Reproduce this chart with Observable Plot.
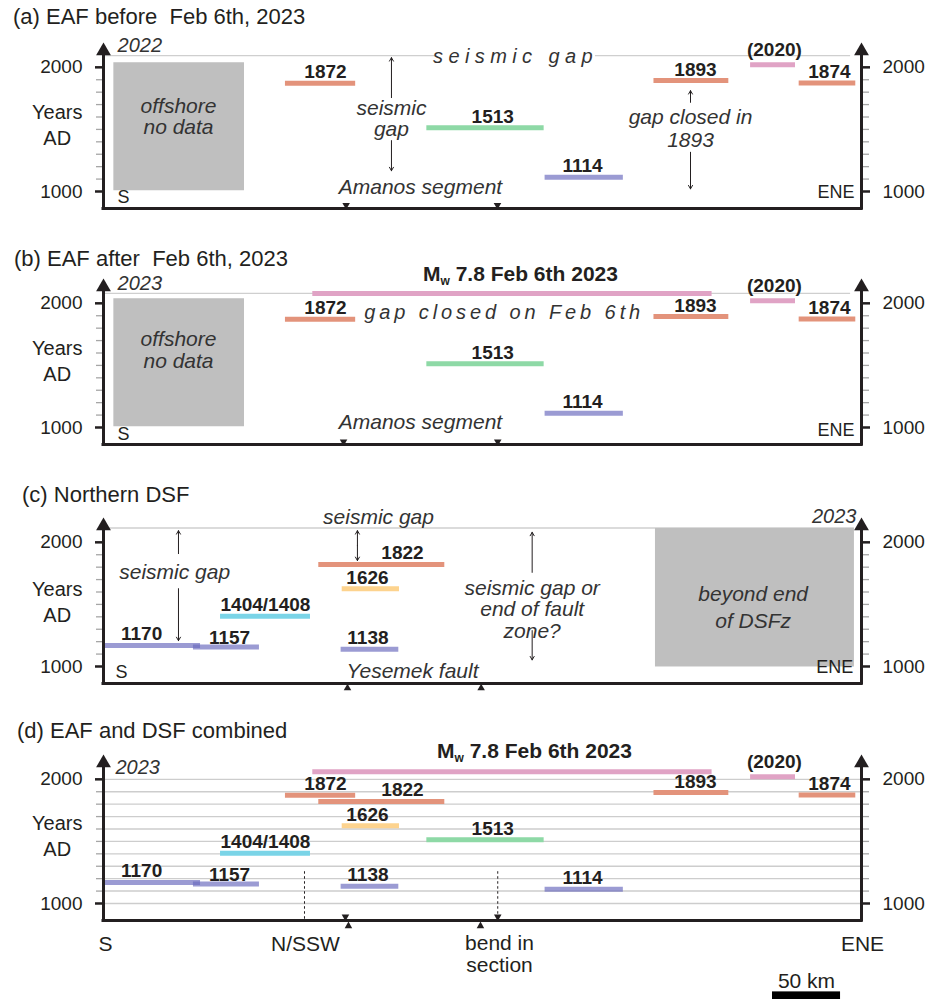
<!DOCTYPE html>
<html><head><meta charset="utf-8">
<script src="https://cdn.jsdelivr.net/npm/d3@7"></script>
<script src="https://cdn.jsdelivr.net/npm/@observablehq/plot@0.6"></script>
<style>
body{margin:0;background:#fff;}
#root{position:relative;width:937px;height:999px;overflow:hidden;background:#fff;font-family:'Liberation Sans',Arial,Helvetica,sans-serif;color:#231f20;}
.ttl{position:absolute;font-size:22px;line-height:22px;white-space:pre;z-index:2;}
</style></head><body><div id="root"></div>
<script>
const FONT = "'Liberation Sans', Arial, Helvetica, sans-serif";
const INK = "#231f20";
const NOTE = "#333333";

// ---------------- data ----------------
const panelTitles = ["(a) EAF before  Feb 6th, 2023", "(b) EAF after  Feb 6th, 2023", "(c) Northern DSF", "(d) EAF and DSF combined"];

const quakeLabels = ["1872", "1513", "1114", "1893", "(2020)", "1874", "2023", "1822", "1626", "1404/1408", "1170", "1157", "1138"];
const quakeYears  = [1872, 1513, 1114, 1893, 2020, 1874, 2023, 1822, 1626, 1404, 1170, 1157, 1138];
const quakeFault  = ["EAF", "EAF", "EAF", "EAF", "EAF", "EAF", "EAF", "DSF", "DSF", "DSF", "DSF", "DSF", "DSF"];
const quakeFromKm = [133.7, 237.6, 324.5, 404.5, 475.5, 511.2, 153.8, 158.2, 175.4, 86.0, 0.0, 66.1, 174.6];
const quakeToKm   = [185.3, 323.8, 382.0, 459.5, 508.5, 552.8, 447.2, 250.8, 217.5, 152.1, 71.3, 114.6, 217.0];
const labelKm     = [163.1, 286.0, 352.0, 435.0, 493.0, 533.4, null, 219.7, 194.0, 119.0, 28.0, 92.6, 194.3];
const MW_TEXT = "Mw 7.8 Feb 6th 2023";

const yTicksMajor = [1000, 2000];
const yTicksMinor = [1100, 1200, 1300, 1400, 1500, 1600, 1700, 1800, 1900];
const gridYears   = [1000, 1100, 1200, 1300, 1400, 1500, 1600, 1700, 1800, 1900, 2000];
const xDomainKm = [0, 557];
const yDomainYears = [863, 2200];
const scaleBarKm = 50;

const events = quakeLabels.map((label, i) => ({
  label, year: quakeYears[i], fault: quakeFault[i], from: quakeFromKm[i], to: quakeToKm[i], lx: labelKm[i]
}));

// ---------------- styles ----------------
const colorOf = {
  "1872": "#e3937b", "1893": "#e3937b", "1874": "#e3937b", "1822": "#e3937b",
  "1513": "#8ed9a6",
  "1114": "rgba(108,108,190,0.68)", "1170": "rgba(108,108,190,0.68)", "1157": "rgba(108,108,190,0.68)", "1138": "rgba(108,108,190,0.68)",
  "(2020)": "#e0a3c5", "2023": "#e0a3c5",
  "1626": "#fdd38e",
  "1404/1408": "#7ad4e7"
};
const labelDy = {"(2020)": -9, "1157": -3};

// ---------------- layout of panels ----------------
const panels = [
  { top: 11.9, titleTop: 6.4, titleLeft: 13, marginBottom: 25,
    filter: e => e.fault === "EAF" && e.label !== "2023",
    presentLine: [{x1: 0, x2: 244.3, y: 2094}, {x1: 361.5, x2: 549, y: 2094}],
    rects: [{x1: 7.6, x2: 103.6, y1: 1006, y2: 2037}],
    notes: [
      {text: "Years\nAD", x: -34.0, y: 1544, size: 20, lh: 1.28},
      {text: "2022", x: 10.3, y: 2175, size: 20, italic: true, anchor: "start"},
      {text: "S", x: 10.3, y: 955, size: 18, anchor: "start"},
      {text: "ENE", x: 551.9, y: 994, size: 18, anchor: "end"},
      {text: "offshore\nno data", x: 55.1, y: 1603, size: 21, italic: true, lh: 1.03},
      {text: "seismic gap", x: 302.75, y: 2086, size: 20, italic: true, spacing: 5.4},
      {text: "seismic\ngap", x: 211.6, y: 1584, size: 21, italic: true, lh: 1.0},
      {text: "Amanos segment", x: 232.9, y: 1034, size: 21, italic: true},
      {text: "gap closed in\n1893", x: 431.35, y: 1510, size: 21, italic: true, lh: 1.07}
    ],
    arrows: [{x: 211.6, from: 1756, to: 2078}, {x: 211.6, from: 1410, to: 1167},
             {x: 431.35, from: 1718, to: 1812}, {x: 431.35, from: 1316, to: 1021}],
    down: [{x: 178.3, y: 890}, {x: 289.5, y: 890}]
  },
  { top: 247.5, titleTop: 248.4, titleLeft: 14, marginBottom: 25, ruptureLevel: 2080,
    filter: e => e.fault === "EAF",
    presentLine: [{x1: 0, x2: 549, y: 2080}],
    rects: [{x1: 7.6, x2: 103.6, y1: 1006, y2: 2037}],
    notes: [
      {text: "Years\nAD", x: -34.0, y: 1545, size: 20, lh: 1.28},
      {text: "2023", x: 10.3, y: 2161, size: 20, italic: true, anchor: "start"},
      {text: "S", x: 10.3, y: 948, size: 18, anchor: "start"},
      {text: "ENE", x: 551.9, y: 980, size: 18, anchor: "end"},
      {text: "offshore\nno data", x: 55.1, y: 1624, size: 21, italic: true, lh: 1.03},
      {text: "gap closed on Feb 6th", x: 294.44, y: 1926, size: 20, italic: true, spacing: 3.9},
      {text: "Amanos segment", x: 232.9, y: 1042, size: 21, italic: true},
      {text: MW_TEXT, x: 306.4, y: 2180, size: 21, bold: true, lineAnchor: "bottom"}
    ],
    down: [{x: 176.4, y: 885}, {x: 289.7, y: 885}]
  },
  { top: 486.9, titleTop: 484.4, titleLeft: 22, marginBottom: 25,
    filter: e => e.fault === "DSF",
    presentLine: [{x1: 0, x2: 405.6, y: 2116}],
    rects: [{x1: 405.6, x2: 551.8, y1: 996, y2: 2116}],
    notes: [
      {text: "Years\nAD", x: -34.0, y: 1528, size: 20, lh: 1.28},
      {text: "2023", x: 553.3, y: 2207, size: 20, italic: true, anchor: "end"},
      {text: "S", x: 8.8, y: 953, size: 18, anchor: "start"},
      {text: "ENE", x: 550.9, y: 994, size: 18, anchor: "end"},
      {text: "seismic gap", x: 52.3, y: 1758, size: 21, italic: true},
      {text: "seismic gap", x: 202.1, y: 2201, size: 21, italic: true},
      {text: "seismic gap or\nend of fault\nzone?", x: 315.0, y: 1459, size: 21, italic: true, lh: 1.03},
      {text: "beyond end\nof DSFz", x: 477.4, y: 1486, size: 21, italic: true, lh: 1.27},
      {text: "Yesemek fault", x: 227.1, y: 967, size: 21, italic: true}
    ],
    arrows: [{x: 55.1, from: 1909, to: 2094}, {x: 55.1, from: 1627, to: 1208},
             {x: 186.6, from: 1973, to: 2094}, {x: 186.6, from: 1973, to: 1853},
             {x: 315.0, from: 1758, to: 2081}, {x: 315.0, from: 1289, to: 1053}],
    up: [{x: 179.3, y: 826}, {x: 277.5, y: 826}]
  },
  { top: 723.5, titleTop: 720.4, titleLeft: 17, marginBottom: 80, ruptureLevel: 2061, grid: true,
    filter: e => true,
    notes: [
      {text: "Years\nAD", x: -34.0, y: 1553, size: 20, lh: 1.28},
      {text: "2023", x: 8.8, y: 2095, size: 20, italic: true, anchor: "start"},
      {text: MW_TEXT, x: 316.7, y: 2171, size: 21, bold: true, lineAnchor: "bottom"},
      {text: "S", x: 1.47, y: 678, size: 21},
      {text: "N/SSW", x: 148.44, y: 678, size: 21},
      {text: "bend in\nsection", x: 290.99, y: 597, size: 21, lh: 1.06},
      {text: "ENE", x: 557.73, y: 678, size: 21},
      {text: "50 km", x: 516.59, y: 376, size: 21}
    ],
    dashed: [{x: 147.7, from: 1256, to: 863}, {x: 289.7, from: 1256, to: 907}],
    down: [{x: 177.8, y: 893}, {x: 289.7, y: 893}],
    up: [{x: 180.0, y: 819}, {x: 277.0, y: 819}],
    scaleBar: [{x1: 491.6, x2: 491.6 + scaleBarKm, y1: 224, y2: 288}]
  }
];

function buildPanel(p) {
  const ev = events.filter(p.filter).map(e => ({
    ...e, level: e.label === "2023" ? p.ruptureLevel : e.year, color: colorOf[e.label]
  }));
  const marks = [];
  if (p.grid) marks.push(Plot.ruleY(gridYears, {x1: xDomainKm[0], x2: xDomainKm[1], stroke: "#cdcdcd", strokeWidth: 1.4}));
  if (p.presentLine) marks.push(Plot.ruleY(p.presentLine, {y: "y", x1: "x1", x2: "x2", stroke: "#cfcfcf", strokeWidth: 1.4}));
  if (p.rects) marks.push(Plot.rect(p.rects, {x1: "x1", x2: "x2", y1: "y1", y2: "y2", fill: "#bfbfbf"}));
  if (p.dashed) marks.push(Plot.ruleX(p.dashed, {x: "x", y1: "from", y2: "to", stroke: INK, strokeWidth: 1, strokeDasharray: "2.5,2.5"}));
  marks.push(Plot.ruleY(ev, {y: "level", x1: "from", x2: "to", stroke: d => d.color, strokeWidth: 5}));
  const labeled = ev.filter(e => e.lx != null);
  const dyOf = e => (labelDy[e.label] ?? -5);
  for (const dy of [...new Set(labeled.map(dyOf))]) {
    marks.push(Plot.text(labeled.filter(e => dyOf(e) === dy), {
      x: "lx", y: "level", text: "label", dy, lineAnchor: "bottom",
      fontSize: 19, fontWeight: "bold", fontFamily: FONT, fill: INK
    }));
  }
  for (const n of p.notes) {
    marks.push(Plot.text([n], {
      x: "x", y: "y", text: "text", fontSize: n.size,
      fontStyle: n.italic ? "italic" : "normal", fontWeight: n.bold ? "bold" : "normal",
      textAnchor: n.anchor || "middle", lineAnchor: n.lineAnchor || "middle",
      lineHeight: n.lh || 1.05, fontFamily: FONT, fill: n.italic ? NOTE : INK
    }));
  }
  if (p.arrows) marks.push(Plot.arrow(p.arrows, {x1: "x", x2: "x", y1: "from", y2: "to", stroke: INK, strokeWidth: 1, headLength: 6}));
  if (p.scaleBar) marks.push(Plot.rect(p.scaleBar, {x1: "x1", x2: "x2", y1: "y1", y2: "y2", fill: "#000"}));
  // axes
  marks.push(
    Plot.axisY({anchor: "left", ticks: yTicksMinor, tickSize: 7, tickFormat: () => "", stroke: "#a6a6a6", strokeWidth: 1.3, label: null}),
    Plot.axisY({anchor: "right", ticks: yTicksMinor, tickSize: 7, tickFormat: () => "", stroke: "#a6a6a6", strokeWidth: 1.3, label: null}),
    Plot.axisY({anchor: "left", ticks: yTicksMajor, tickSize: 8, tickPadding: 13, tickFormat: d => String(d),
      fontSize: 19, fontFamily: FONT, stroke: INK, fill: INK, strokeWidth: 2.5, label: null}),
    Plot.axisY({anchor: "right", ticks: yTicksMajor, tickSize: 8, tickPadding: 13, tickFormat: d => String(d),
      fontSize: 19, fontFamily: FONT, stroke: INK, fill: INK, strokeWidth: 2.5, label: null}),
    Plot.ruleX(xDomainKm, {y1: yDomainYears[0], y2: yDomainYears[1] - 60, stroke: INK, strokeWidth: 3, strokeLinecap: "square"}),
    Plot.ruleY([yDomainYears[0]], {x1: xDomainKm[0], x2: xDomainKm[1], stroke: INK, strokeWidth: 3, strokeLinecap: "square"}),
    Plot.dot(xDomainKm, {x: d => d, y: () => yDomainYears[1], dy: 8.5, symbol: "triangle", r: 5.5, fill: INK})
  );
  if (p.down) marks.push(Plot.dot(p.down, {x: "x", y: "y", symbol: "triangle", rotate: 180, r: 2.8, fill: INK}));
  if (p.up) marks.push(Plot.dot(p.up, {x: "x", y: "y", symbol: "triangle", r: 2.8, fill: INK}));

  const svg = Plot.plot({
    width: 937, height: 30 + 166 + p.marginBottom,
    marginLeft: 103, marginRight: 76, marginTop: 30, marginBottom: p.marginBottom,
    x: {domain: xDomainKm, axis: null},
    y: {domain: yDomainYears},
    color: {type: "identity"},
    style: {background: "transparent", overflow: "visible", fontFamily: FONT, color: INK},
    marks
  });
  // letter-spaced notes
  for (const n of p.notes) {
    if (n.spacing) d3.select(svg).selectAll("text").filter(function () { return this.textContent === n.text; })
      .attr("letter-spacing", n.spacing);
  }
  // subscript w in Mw
  d3.select(svg).selectAll("text").filter(function () { return this.textContent === MW_TEXT; }).each(function () {
    const t = d3.select(this);
    t.text(null);
    t.append("tspan").text("M");
    t.append("tspan").attr("font-size", "12px").attr("dy", "4").text("w");
    t.append("tspan").attr("dy", "-4").text(" 7.8 Feb 6th 2023");
  });
  svg.style.position = "absolute";
  svg.style.left = "0px";
  svg.style.top = p.top + "px";
  return svg;
}

const root = document.getElementById("root");
panels.forEach((p, i) => {
  root.appendChild(buildPanel(p));
  const t = document.createElement("div");
  t.className = "ttl";
  t.style.top = p.titleTop + "px";
  t.style.left = p.titleLeft + "px";
  t.textContent = panelTitles[i];
  root.appendChild(t);
});
</script></body></html>
